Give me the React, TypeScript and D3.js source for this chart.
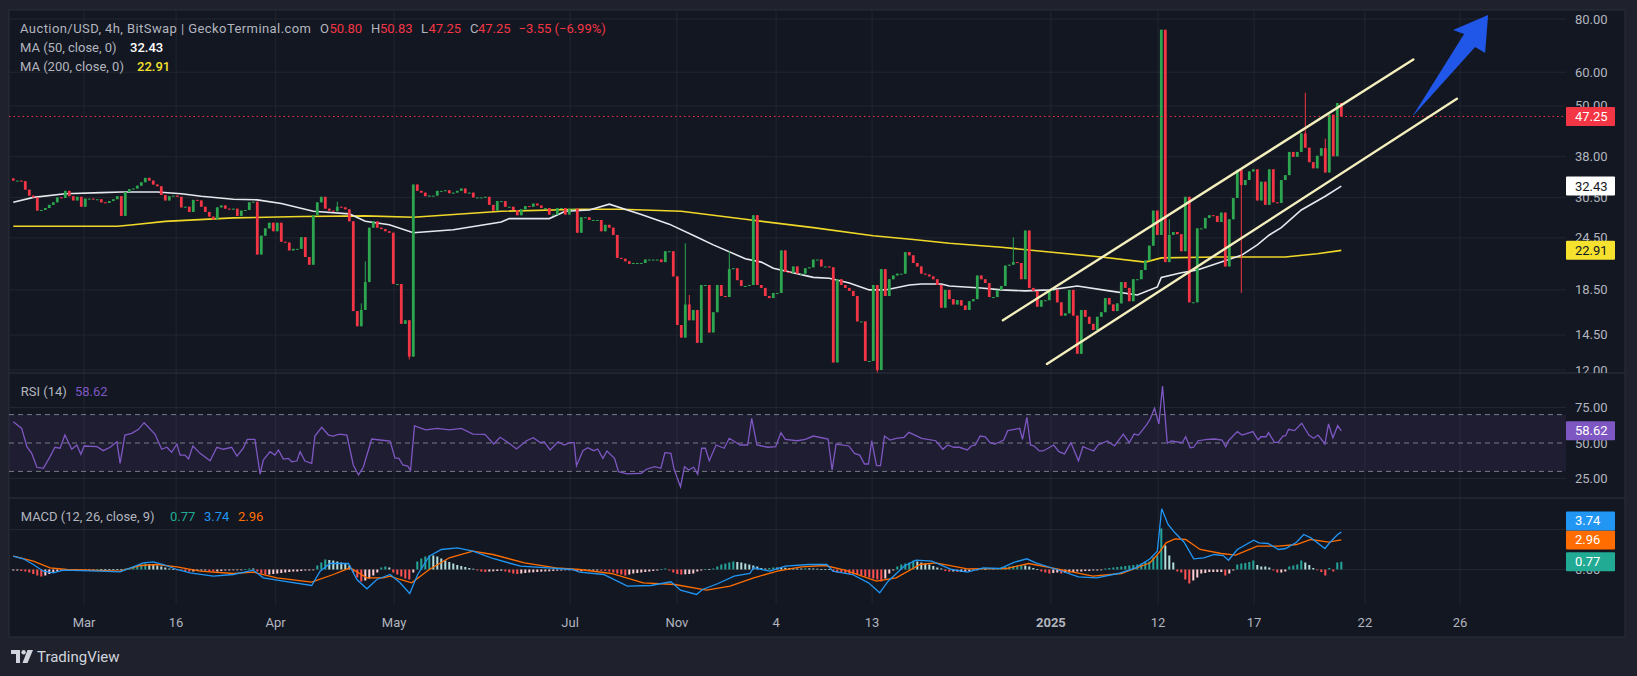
import * as d3 from "d3";

// ---- price data (4h candles, open = previous close) ----
const firstOpen = 33.8;
const closes = [
  33.4, 33.4, 33.3, 31.8, 30.8, 30.5, 28.4, 28.5, 28.8, 29.3,
  29.7, 30.5, 30.4, 31.6, 30.7, 30.0, 30.6, 29.0, 30.3, 30.3,
  30.2, 30.2, 29.7, 29.6, 29.9, 30.2, 30.7, 27.6, 31.4, 31.9,
  32.0, 32.5, 33.1, 33.9, 33.4, 32.7, 32.4, 30.9, 30.0, 30.7,
  30.8, 30.6, 28.9, 29.0, 28.2, 30.1, 30.0, 29.0, 28.2, 27.5,
  27.1, 28.9, 29.2, 28.7, 28.6, 28.7, 27.6, 28.4, 28.5, 29.7,
  29.8, 22.4, 24.8, 25.8, 26.6, 25.4, 26.6, 24.0, 23.9, 22.9,
  23.1, 23.1, 24.6, 22.1, 21.2, 27.7, 29.7, 30.6, 28.7, 28.4,
  28.3, 29.0, 28.9, 28.6, 26.8, 16.5, 15.2, 16.6, 19.3, 25.9,
  26.8, 25.9, 25.7, 25.4, 25.2, 19.1, 19.1, 15.4, 15.7, 12.9,
  32.7, 31.6, 31.3, 30.7, 30.8, 30.8, 31.6, 31.6, 31.7, 31.2,
  31.3, 31.6, 32.0, 31.2, 31.3, 30.5, 30.5, 30.5, 30.6, 29.3,
  28.4, 29.9,
  29.9, 29.0, 29.0, 28.5, 27.7, 28.6, 29.1, 29.0, 29.5, 29.2,
  28.8, 28.8, 27.8, 27.8, 28.8, 28.8, 27.8, 28.7, 28.7, 25.2,
  27.4, 27.4, 27.0, 27.0, 27.0, 25.4, 26.3, 25.9, 24.9, 22.0,
  21.9, 21.6, 21.3, 21.4, 21.4, 21.4, 21.8, 21.8, 21.8, 21.8,
  21.5, 22.8, 22.8, 19.9, 15.3, 14.3, 17.1, 15.7, 16.6, 13.9,
  19.0, 19.0, 14.7, 16.4, 19.0, 17.9, 17.8, 20.7, 20.8, 19.5,
  18.9, 18.9, 19.0, 27.7, 19.0, 18.7, 17.9, 17.7, 18.2, 18.2,
  22.9, 20.4, 20.3, 21.0, 20.2, 20.2, 20.8, 20.9, 21.8, 21.8,
  21.0, 21.0, 20.9, 12.5, 19.6, 19.0, 18.7, 18.4, 17.9, 15.6,
  15.6, 12.6, 12.6, 19.0, 12.0, 20.7, 17.9, 19.6, 20.0, 20.2,
  20.2, 22.7, 22.3, 21.4, 21.0, 20.2, 20.1, 19.9, 19.6, 19.0,
  16.8, 18.5, 17.6, 17.1, 17.5, 17.0, 16.6, 17.4, 17.6, 20.0,
  19.6, 19.2, 17.8, 17.8, 18.5,
  18.9, 21.1, 21.2, 21.5, 21.4, 19.6, 25.5, 18.7, 18.4, 16.9,
  17.5, 17.5, 18.5, 18.5, 17.3, 16.1, 16.3, 18.5, 16.1, 13.1,
  16.6, 16.0, 15.4, 14.9, 16.0, 16.4, 17.7, 17.1, 16.5, 17.2,
  19.3, 18.7, 17.4, 19.6, 19.6, 20.6, 21.7, 23.5, 28.4, 24.9,
  75.5, 21.5, 24.9, 25.3, 25.0, 22.8, 30.6, 17.3, 17.3, 25.8,
  25.8, 27.3, 27.7, 27.6, 26.7, 28.1, 21.0, 27.1, 30.4, 35.4,
  32.6, 33.5, 35.1, 35.5, 30.0, 33.2, 29.3, 35.5, 29.7, 29.6,
  33.5, 34.4, 39.0, 38.0, 39.0, 43.1, 39.9, 36.9, 35.7, 38.2,
  39.8, 34.9, 47.7, 38.1, 50.8, 47.25,
];
// [candle index, high, low] where the wick goes past the body
const wicks: [number, number | null, number | null][] = [
  [81, 29.8, null], [87, 17.2, null], [88, 21.6, null], [99, null, 12.7],
  [168, 23.8, null], [169, 18.0, null], [179, 22.8, null], [216, null, 11.8],
  [250, 24.6, null], [289, 27.1, null], [307, null, 18.2], [323, 53.7, null],
  [328, 41.9, null], [332, 50.83, null],
];

const ma50: [number, number][] = [
  [0, 29.7], [5, 30.5], [13, 31.1], [22, 31.3], [27, 31.4], [36, 31.4], [42, 31.1], [47, 30.7],
  [55, 30.2], [61, 30.1], [67, 29.5], [75, 28.3], [84, 27.9], [88, 26.8], [94, 26.3], [100, 25.2],
  [110, 25.6], [122, 26.7], [124, 27.2], [134, 27.2], [138, 28.3], [144, 28.5], [149, 29.4],
  [157, 27.8], [164, 26.4], [171, 24.6], [175, 23.6], [183, 21.9], [187, 21.5], [190, 20.8],
  [200, 19.8], [204, 19.7], [209, 19.2], [214, 18.5], [218, 18.5], [224, 19.0], [227, 19.1],
  [232, 19.1], [234, 18.9], [242, 18.7], [247, 18.5], [253, 18.4], [259, 18.5], [266, 18.9],
  [274, 18.4], [281, 18.0], [286, 18.8], [287, 19.8], [292, 20.3], [296, 20.6], [302, 21.5],
  [307, 22.3], [311, 23.6], [314, 24.9], [317, 25.9], [322, 28.5], [328, 30.7], [332, 32.43],
];
const ma200: [number, number][] = [
  [0, 26.1], [26, 26.1], [30, 26.3], [38, 26.8], [55, 27.3], [72, 27.5], [88, 27.6], [100, 27.4],
  [122, 28.3], [142, 28.6], [152, 28.6], [167, 28.3], [183, 27.1], [200, 25.9], [215, 24.8],
  [225, 24.3], [234, 23.8], [247, 23.3], [259, 22.7], [272, 22.1], [283, 21.5], [287, 22.0],
  [301, 22.1], [318, 22.1], [326, 22.5], [332, 22.91],
];

const rsi: [number, number][] = [
  [0, 65.0], [2.1, 60.3], [3.4, 47.4], [4.6, 42.7], [5.9, 32.9], [7.5, 32.2], [9.2, 40.4], [10.4, 47.0], [11.7, 46.3], [12.9, 55.6],
  [14.6, 45.6], [15.9, 48.6], [16.9, 42.0], [17.7, 47.9], [20.9, 47.4], [22.5, 44.6], [24.2, 47.0], [25.9, 50.9], [26.7, 35.7], [27.9, 55.6],
  [29.6, 56.8], [31.3, 59.6], [32.7, 64.3], [35.4, 56.3], [37.1, 45.6], [38.4, 47.0], [39.6, 43.5], [40.9, 49.3], [41.7, 41.5], [42.9, 41.5],
  [43.8, 38.7], [44.9, 47.9], [46.7, 42.7], [49.2, 37.5], [50.9, 47.0], [52.5, 45.6], [54.6, 47.0], [55.9, 40.8], [57.5, 46.3], [58.5, 52.6],
  [60.4, 52.6], [61.7, 28.0], [62.5, 38.0], [64.2, 43.9], [65.4, 41.5], [66.3, 45.1], [67.5, 38.7], [68.8, 39.2], [69.6, 36.8], [70.9, 37.3],
  [71.7, 43.9], [72.9, 37.3], [74.6, 35.7], [75.4, 54.9], [77.1, 61.1], [78.8, 55.6], [80, 54.9], [81.5, 56.3], [83.4, 55.6], [85, 34.5],
  [86.3, 27.5], [87.5, 32.9], [89.6, 52.8], [91.7, 52.1], [94.2, 51.4], [95.4, 39.5], [96.4, 39.2], [97.4, 34.5], [98.6, 33.8], [99.3, 30.5],
  [100.3, 62.0], [103.1, 59.2], [106, 60.3], [109, 59.2], [112, 60.3], [114.9, 56.3], [117.9, 56.1], [120.1, 49.3], [121.7, 54.0], [123.8, 50.2],
  [125.8, 45.8], [128.3, 51.6], [130, 53.7], [131.8, 50.2], [132.7, 50.9], [134.2, 45.1], [136.2, 50.9], [137.7, 48.6], [139.2, 50.2], [140.2, 50.2],
  [140.8, 34.0], [142.4, 44.6], [143.6, 46.7], [145.1, 44.6], [146.1, 45.8], [147.4, 39.2], [148.4, 44.4], [150.3, 39.2], [151.3, 29.8], [153.5, 28.2],
  [157, 28.7], [158.4, 31.7], [160.4, 33.3], [161.9, 32.2], [162.9, 43.2], [164.4, 42.7], [165.2, 31.5], [166.8, 19.2], [167.8, 33.3], [168.8, 31.0],
  [170.1, 32.9], [171.1, 28.0], [172.1, 46.3], [173, 46.3], [174, 37.5], [175.7, 48.6], [177.7, 46.3], [179, 53.3], [181.7, 48.6], [183.6, 48.6],
  [184.6, 67.4], [185.9, 48.6], [188.6, 47.0], [190.6, 47.4], [191.9, 57.3], [193, 52.6], [196, 51.6], [198, 52.6], [200, 54.9], [203.7, 52.8],
  [204.7, 31.0], [205.7, 49.3], [208.9, 47.9], [210.3, 42.7], [211.6, 41.5], [212.8, 35.2], [213.8, 35.2], [214.6, 51.6], [215.8, 34.0], [216.8, 34.0],
  [217.8, 54.9], [219.2, 52.1], [220.7, 53.3], [222.7, 54.0], [223.9, 57.5], [227.1, 53.3], [230.6, 51.6], [232.4, 45.6], [233.6, 48.6], [235.1, 47.0],
  [236.5, 47.0], [238.5, 45.1], [239.5, 47.9], [240.5, 48.6], [241.7, 54.9], [243, 54.4], [244.2, 50.2], [245.4, 49.3], [246.7, 50.9], [247.6, 52.1],
  [248.6, 58.7], [250.3, 59.6], [251.6, 60.3], [252.3, 52.6], [253.4, 68.1], [254.3, 48.6], [255.2, 47.9], [256.5, 44.4], [257.4, 44.4], [258.7, 46.3],
  [260.1, 48.6], [261.4, 43.9], [262.8, 42.3], [264.4, 50.2], [266.3, 37.5], [267.4, 47.4], [269, 45.6], [270.1, 44.4], [271.2, 48.6], [273.5, 51.4],
  [275.3, 47.9], [277.5, 56.3], [279, 50.2], [280.2, 56.3], [281.3, 55.6], [283.3, 62.7], [284.2, 66.7], [285.3, 74.4], [286.4, 63.4], [287.3, 90.1],
  [288.5, 49.8], [289.5, 51.4], [292.2, 50.2], [293.1, 54.4], [294.2, 46.7], [295.1, 47.0], [296.2, 51.6], [298.5, 52.6], [300.3, 52.8], [302.2, 52.1],
  [303.1, 47.4], [303.8, 51.6], [306, 58.0], [307.2, 55.6], [308.5, 56.8], [309.9, 58.0], [311.2, 52.1], [311.9, 54.4], [313.2, 54.4], [313.8, 57.3],
  [315.3, 50.5], [316.2, 50.5], [317.4, 54.9], [318.1, 55.1], [318.8, 59.6], [320.3, 58.7], [322.1, 63.9], [323.9, 55.6], [325.1, 53.3], [326.2, 55.6],
  [327.9, 49.3], [328.8, 63.4], [329.9, 53.7], [331.1, 62.2], [332, 58.62],
];

const macdLine: [number, number][] = [
  [0, 1.33], [2.5, 1.07], [5, 0.5], [7.5, -0.17], [10, -0.33], [12.5, -0.07], [21.7, -0.17], [26.7, -0.23],
  [30, 0.27], [32.5, 0.67], [35, 0.77], [37.5, 0.5], [40.9, 0], [44.2, -0.33], [50, -0.67], [55, -0.5],
  [60, -0.07], [62.5, -0.83], [67.5, -1.17], [74.6, -1.6], [76.7, -0.17], [79.2, 0.6], [83.8, 0.6],
  [85.9, -1.0], [88.4, -1.93], [90.9, -1.0], [94.2, -0.5], [96.7, -1.33], [99.1, -2.4], [101.1, -0.5],
  [104, 1.33], [107, 2.0], [111, 2.17], [114.9, 1.83], [119.9, 1.1], [126.8, 0.33], [133.7, 0.17],
  [139.7, 0], [141.6, -0.27], [147.6, -0.5], [153.5, -1.67], [159.4, -1.6], [164.4, -1.23], [166.8, -2.07],
  [170.8, -2.5], [172.3, -2.0], [176.2, -1.4], [180.2, -0.67], [184.1, -0.4], [185.1, 0.17], [189.1, -0.17],
  [193, 0.33], [198.9, 0.5], [203.4, 0.5], [204.9, -0.17], [209.8, -0.5], [213.8, -1.33], [216.6, -2.33],
  [218.7, -1.17], [222.7, 0.33], [225.7, 0.93], [229.6, 0.83], [234.6, 0], [238.5, -0.27], [242.5, 0.17],
  [246.7, 0.1], [250.3, 0.73], [253.4, 1.07], [255.6, 0.67], [260.9, 0], [266.3, -0.73], [270.8, -0.83],
  [276.2, -0.4], [280.6, 0.17], [284.2, 1.07], [286, 1.83], [287.1, 6.07], [288.7, 4.5], [290.4, 3.67],
  [292.7, 2.73], [295.1, 1.07], [297.6, 1.17], [300.3, 1.5], [302.5, 1.4], [303.8, 0.93], [306, 2.0],
  [310.1, 2.93], [311.4, 2.67], [313.7, 2.6], [316.3, 2.0], [318.1, 2.1], [320.8, 2.73], [322.6, 3.5],
  [324.4, 3.17], [327.9, 2.1], [329.3, 2.77], [331.1, 3.5], [332, 3.74],
];
const signalLine: [number, number][] = [
  [0, 1.33], [5, 0.83], [9.2, 0.17], [13.4, 0], [26.7, -0.17], [31.7, 0.4], [35.9, 0.5], [40.9, 0.27],
  [46.7, -0.17], [55, -0.4], [60, -0.27], [65.9, -0.83], [74.6, -1.27], [80, -0.5], [84.2, 0.17],
  [88.4, -0.83], [92.5, -0.83], [94.2, -0.67], [96.7, -1.0], [99.6, -1.33], [104, 0], [109, 1.17],
  [114.9, 1.83], [119.9, 1.5], [127.8, 0.67], [135.7, 0.17], [141.6, 0], [149.5, -0.4], [157.5, -1.33],
  [165.4, -1.5], [173.3, -2.07], [179.2, -1.67], [185.1, -0.83], [191, -0.17], [197, 0.27], [202.9, 0.4],
  [207.9, -0.07], [215.8, -1.17], [220.7, -0.83], [226.7, 0.5], [230.6, 0.67], [238.5, 0.07], [248.4, 0.1],
  [253.8, 0.6], [260.9, 0.07], [269.9, -0.67], [277, -0.4], [284.2, 0.67], [286.4, 1.67], [288.2, 2.67],
  [290.4, 3.07], [293.1, 3.0], [296.7, 2.0], [302, 1.6], [305.6, 1.43], [311, 2.33], [316.3, 2.33],
  [320.8, 2.5], [324.4, 3.0], [328.8, 2.73], [332, 2.96],
];
const histogram = [
  -0.1, -0.1, -0.15, -0.2, -0.3, -0.45, -0.6, -0.7, -0.6, -0.45,
  -0.3, -0.2, -0.1, -0.1, -0.05, -0.05, -0.05, -0.05, -0.05, -0.05,
  -0.05, 0.03, 0.03, 0.03, 0.03, 0.03, 0.03, 0.03, 0.1, 0.15,
  0.3, 0.4, 0.5, 0.6, 0.55, 0.5, 0.4, 0.3, 0.2, 0.1,
  0.05, -0.05, -0.1, -0.15, -0.2, -0.2, -0.15, -0.1, -0.1, -0.15,
  -0.2, -0.2, -0.15, -0.1, -0.1, -0.05, -0.05, -0.05, 0.05, 0.1,
  0.1, -0.2, -0.4, -0.5, -0.5, -0.45, -0.4, -0.35, -0.3, -0.25,
  -0.2, -0.2, -0.15, -0.1, -0.1, -0.05, 0.4, 0.7, 1.0, 0.95,
  0.9, 0.8, 0.7, 0.6, 0.4, -0.3, -0.8, -1.2, -1.1, -0.9,
  -0.6, -0.3, 0.2, 0.3, 0.2, -0.3, -0.5, -0.7, -0.9, -1.0,
  -0.3, 0.8, 1.1, 1.3, 1.4, 1.4, 1.3, 1.1, 0.9, 0.75,
  0.6, 0.45, 0.35, 0.25, 0.15, 0.08, -0.1, -0.2, -0.25, -0.2,
  -0.18, -0.15, -0.12, -0.2, -0.3, -0.4, -0.45, -0.4, -0.35, -0.3,
  -0.28, -0.25, -0.22, -0.2, -0.18, -0.15, -0.12, -0.1, -0.08, -0.05,
  -0.1, -0.2, -0.18, -0.15, -0.12, -0.1, -0.1, -0.12, -0.15, -0.2,
  -0.3, -0.4, -0.5, -0.6, -0.5, -0.4, -0.35, -0.3, -0.25, -0.2,
  -0.15, -0.1, 0.05, 0.1, -0.1, -0.3, -0.45, -0.5, -0.48, -0.45,
  -0.4, -0.2, -0.1, 0.05, 0.05, 0.1, 0.3, 0.5, 0.6, 0.7,
  0.8, 0.75, 0.7, 0.6, 0.5, 0.4, 0.3, 0.15, 0.1, 0.15,
  0.2, 0.2, 0.2, 0.18, 0.15, 0.12, 0.1, 0.1, 0.12, 0.12,
  0.1, 0.08, 0.05, 0.05, 0.03, -0.2, -0.3, -0.35, -0.4, -0.45,
  -0.5, -0.55, -0.6, -0.7, -0.8, -0.9, -1.0, -1.2, -0.9, -0.4,
  -0.1, 0.3, 0.5, 0.6, 0.7, 0.9, 0.8, 0.7, 0.6, 0.5,
  0.35, 0.2, 0.1, -0.15, -0.2, -0.2, -0.25, -0.25, -0.2, -0.15,
  -0.1, -0.05, 0.05, 0.05, 0.1, 0.1, 0.15, 0.2, 0.25, 0.3,
  0.35, 0.4, 0.45, 0.4, 0.3, 0.15, 0.05, -0.2, -0.3, -0.4,
  -0.35, -0.3, -0.4, -0.35, -0.3, -0.25, -0.2, -0.2, -0.15, -0.15,
  -0.1, -0.1, -0.05, 0.1, 0.15, 0.2, 0.25, 0.3, 0.35, 0.4,
  0.45, 0.5, 0.6, 0.75, 0.8, 1.2, 1.4, 4.1, 2.4, 1.4,
  0.7, -0.2, -0.3, -1.0, -1.4, -1.1, -0.8, -0.4, -0.35, -0.25,
  -0.25, -0.25, -0.25, -0.6, -0.4, -0.1, 0.5, 0.6, 0.65, 0.75,
  0.9, 0.45, 0.3, 0.3, 0.2, -0.1, -0.3, -0.3, -0.2, 0.3,
  0.4, 0.5, 0.9, 0.7, 0.45, 0.15, -0.05, -0.25, -0.6, 0.15,
  -0.2, 0.7, 0.77,
];

const priceTicks = [80, 60, 50, 38, 30.5, 24.5, 18.5, 14.5, 12];
const rsiTicks = [75, 50, 25];
const macdGrid = [4, 0];
const macdTickLabels = [0];
const timeTicks = [
  { i: 17.7, label: "Mar" }, { i: 40.7, label: "16" }, { i: 65.6, label: "Apr" },
  { i: 95.2, label: "May" }, { i: 139.2, label: "Jul" }, { i: 165.9, label: "Nov" },
  { i: 190.7, label: "4" }, { i: 214.7, label: "13" }, { i: 259.4, label: "2025", bold: true },
  { i: 286.2, label: "12" }, { i: 310.2, label: "17" }, { i: 337.9, label: "22" },
  { i: 361.7, label: "26" },
];
// channel drawn on the chart: [index, price] -> [index, price]
const channel: [number, number][][] = [
  [[247.4, 15.7], [350, 64.3]],
  [[258.4, 12.4], [360.9, 52.0]],
];
const last = { close: 47.25, ma50: 32.43, ma200: 22.91, rsi: 58.62, hist: 0.77, macd: 3.74, signal: 2.96 };

const FONT = "Roboto, 'Liberation Sans', Arial, sans-serif";
const GRID = "#22262f";
const TXT = "#b2b5be";
const UP = "#2ea64f";
const DOWN = "#f23645";
const L = 9, R = 1566, T = 10;
const MAIN_B = 373, RSI_B = 498, MACD_B = 604, FRAME_R = 1625, FRAME_B = 637;

export default function App() {
  const n = closes.length;
  const x = d3.scaleLinear().domain([0, n - 1]).range([13.3, 1341.3]);
  const yP = d3.scaleLog().domain([12, 80]).range([370, 19]);
  const yR = d3.scaleLinear().domain([25, 75]).range([478.5, 407.5]);
  const yM = d3.scaleLinear().domain([0, 4]).range([569.5, 529.5]);

  const candles = closes.map((c, i) => {
    const o = i === 0 ? firstOpen : closes[i - 1];
    const w = wicks.find((d) => d[0] === i);
    const h = Math.max(o, c, w && w[1] != null ? w[1] : 0);
    const l = Math.min(o, c, w && w[2] != null ? w[2] : 1e9);
    return { i, o, c, h, l };
  });

  const lineP = d3.line<[number, number]>().x((d) => x(d[0])).y((d) => yP(d[1]));
  const lineR = d3.line<[number, number]>().x((d) => x(d[0])).y((d) => yR(d[1]));
  const lineM = d3.line<[number, number]>().x((d) => x(d[0])).y((d) => yM(d[1]));

  const histColor = (v: number, p: number) =>
    v >= 0 ? (v > p ? "#26a69a" : "#b2dfdb") : v < p ? "#ff5252" : "#ffcdd2";

  // macd badges pushed apart like the price scale does
  const macdBadges = [
    { v: last.hist, color: "#22ab94" },
    { v: last.signal, color: "#ff6d00" },
    { v: last.macd, color: "#2196f3" },
  ];
  let prevY = Infinity;
  const macdBadgeY = macdBadges.map((b) => {
    const y = Math.min(yM(b.v), prevY - 19);
    prevY = y;
    return y;
  });

  const badge = (y: number, fill: string, text: string, color: string, key: string) => (
    <g key={key}>
      <rect x={R} y={y - 9.5} width={49} height={19} fill={fill} rx={1} />
      <text x={1575} y={y} fill={color} fontSize={13} dominantBaseline="central">{text}</text>
    </g>
  );

  const tipX = x(368.7), tipY = yP(81.8);
  const arrow = [
    [tipX, tipY], [tipX - 35, tipY + 15], [tipX - 24, tipY + 19], [tipX - 76, tipY + 102],
    [tipX - 13, tipY + 32], [tipX - 3, tipY + 38],
  ].map((p) => p.join(",")).join(" ");

  return (
    <svg width={1637} height={676} style={{ position: "absolute", left: 0, top: 0, display: "block" }} fontFamily={FONT}>
      <defs>
        <clipPath id="cMain"><rect x={L} y={T} width={R - L} height={MAIN_B - T} /></clipPath>
        <clipPath id="cRsi"><rect x={L} y={MAIN_B} width={R - L} height={RSI_B - MAIN_B} /></clipPath>
        <clipPath id="cMacd"><rect x={L} y={RSI_B} width={R - L} height={MACD_B - RSI_B} /></clipPath>
        <clipPath id="cMainAxis"><rect x={R} y={T} width={FRAME_R - R} height={MAIN_B - T} /></clipPath>
      </defs>
      <rect width={1637} height={676} fill="#1f222c" />
      <rect x={L} y={T} width={FRAME_R - L} height={FRAME_B - T} fill="#131722" stroke="#2a2e39" />

      {/* grid */}
      {timeTicks.map((t) => (
        <line key={t.label} x1={x(t.i)} x2={x(t.i)} y1={T} y2={MACD_B} stroke={GRID} />
      ))}
      {priceTicks.map((p) => (
        <line key={p} x1={L} x2={R} y1={yP(p)} y2={yP(p)} stroke={GRID} />
      ))}
      {rsiTicks.filter((v) => v !== 50).map((v) => (
        <line key={v} x1={L} x2={R} y1={yR(v)} y2={yR(v)} stroke={GRID} />
      ))}
      {macdGrid.map((v) => (
        <line key={v} x1={L} x2={R} y1={yM(v)} y2={yM(v)} stroke={GRID} />
      ))}

      {/* main pane */}
      <g clipPath="url(#cMain)">
        <path d={lineP(ma200) || ""} fill="none" stroke="#f0d829" strokeWidth={1.6} />
        <path d={lineP(ma50) || ""} fill="none" stroke="#e6e8ee" strokeWidth={1.6} />
        {candles.map((d) => {
          const col = d.c >= d.o ? UP : DOWN;
          const top = yP(Math.max(d.o, d.c));
          const bot = yP(Math.min(d.o, d.c));
          return (
            <g key={d.i}>
              <line x1={x(d.i)} x2={x(d.i)} y1={yP(d.h)} y2={yP(d.l)} stroke={col} strokeWidth={1} />
              <rect x={x(d.i) - 1.4} y={top} width={2.8} height={Math.max(1, bot - top)} fill={col} />
            </g>
          );
        })}
        <line x1={L} x2={R} y1={yP(last.close)} y2={yP(last.close)} stroke={DOWN} strokeDasharray="1.5 3" />
        {channel.map((c, k) => (
          <line key={k} x1={x(c[0][0])} y1={yP(c[0][1])} x2={x(c[1][0])} y2={yP(c[1][1])}
            stroke="#f4efbd" strokeWidth={2.4} strokeLinecap="round" />
        ))}
        <polygon points={arrow} fill="#2157e8" />
      </g>

      {/* RSI pane */}
      <line x1={L} x2={FRAME_R} y1={MAIN_B} y2={MAIN_B} stroke="#2e323d" />
      <g clipPath="url(#cRsi)">
        <rect x={L} y={yR(70)} width={R - L} height={yR(30) - yR(70)} fill="rgba(126,87,194,0.1)" />
        {[70, 50, 30].map((v) => (
          <line key={v} x1={L} x2={R} y1={yR(v)} y2={yR(v)} stroke="#787b86" strokeDasharray="5 4" />
        ))}
        <path d={lineR(rsi) || ""} fill="none" stroke="#7e57c2" strokeWidth={1.3} />
      </g>

      {/* MACD pane */}
      <line x1={L} x2={FRAME_R} y1={RSI_B} y2={RSI_B} stroke="#2e323d" />
      <g clipPath="url(#cMacd)">
        {histogram.map((v, i) => {
          const y0 = yM(0), y1 = yM(v);
          return (
            <rect key={i} x={x(i) - 1} width={2} y={Math.min(y0, y1)} height={Math.max(0.8, Math.abs(y1 - y0))}
              fill={histColor(v, i === 0 ? v : histogram[i - 1])} />
          );
        })}
        <path d={lineM(signalLine) || ""} fill="none" stroke="#ff6d00" strokeWidth={1.3} />
        <path d={lineM(macdLine) || ""} fill="none" stroke="#2196f3" strokeWidth={1.3} />
      </g>

      {/* price axis */}
      <g clipPath="url(#cMainAxis)">
        {priceTicks.map((p) => (
          <text key={p} x={1575} y={yP(p)} fill={TXT} fontSize={13} dominantBaseline="central">{p.toFixed(2)}</text>
        ))}
      </g>
      {rsiTicks.map((v) => (
        <text key={v} x={1575} y={yR(v)} fill={TXT} fontSize={13} dominantBaseline="central">{v.toFixed(2)}</text>
      ))}
      {macdTickLabels.map((v) => (
        <text key={v} x={1575} y={yM(v)} fill={TXT} fontSize={13} dominantBaseline="central">{v.toFixed(2)}</text>
      ))}
      {badge(yP(last.close), DOWN, last.close.toFixed(2), "#ffffff", "b1")}
      {badge(yP(last.ma50), "#ffffff", last.ma50.toFixed(2), "#131722", "b2")}
      {badge(yP(last.ma200), "#f5e12e", last.ma200.toFixed(2), "#131722", "b3")}
      {badge(yR(last.rsi), "#7e57c2", last.rsi.toFixed(2), "#ffffff", "b4")}
      {macdBadges.map((b, k) => badge(macdBadgeY[k], b.color, b.v.toFixed(2), "#ffffff", "m" + k))}

      {/* time axis */}
      {timeTicks.map((t) => (
        <text key={t.label} x={x(t.i)} y={622} fill={TXT} fontSize={13} textAnchor="middle"
          dominantBaseline="central" fontWeight={t.bold ? 700 : 400}>{t.label}</text>
      ))}

      {/* legends */}
      <g fontSize={13} dominantBaseline="central">
        <text x={20} y={28} fill={TXT} textLength={291} lengthAdjust="spacing">Auction/USD, 4h, BitSwap | GeckoTerminal.com</text>
        <text x={320} y={28} fill={TXT}>O</text>
        <text x={329.5} y={28} fill={DOWN}>50.80</text>
        <text x={371} y={28} fill={TXT}>H</text>
        <text x={380} y={28} fill={DOWN}>50.83</text>
        <text x={421} y={28} fill={TXT}>L</text>
        <text x={428.5} y={28} fill={DOWN}>47.25</text>
        <text x={470} y={28} fill={TXT}>C</text>
        <text x={478} y={28} fill={DOWN}>47.25</text>
        <text x={518.5} y={28} fill={DOWN}>−3.55 (−6.99%)</text>
        <text x={20} y={47.7} fill={TXT}>MA (50, close, 0)</text>
        <text x={130} y={47.7} fill="#ffffff" fontWeight={500}>{last.ma50.toFixed(2)}</text>
        <text x={20} y={66.7} fill={TXT}>MA (200, close, 0)</text>
        <text x={137} y={66.7} fill="#f5e12e" fontWeight={500}>{last.ma200.toFixed(2)}</text>
        <text x={20.7} y={391.7} fill={TXT}>RSI (14)</text>
        <text x={75} y={391.7} fill="#7e57c2">{last.rsi.toFixed(2)}</text>
        <text x={20.7} y={516.7} fill={TXT}>MACD (12, 26, close, 9)</text>
        <text x={170} y={516.7} fill="#22ab94">{last.hist.toFixed(2)}</text>
        <text x={204} y={516.7} fill="#2196f3">{last.macd.toFixed(2)}</text>
        <text x={238} y={516.7} fill="#ff6d00">{last.signal.toFixed(2)}</text>
      </g>

      {/* TradingView mark */}
      <g fill="#d1d4dc">
        <path d="M11 650 h9 v13 h-4 v-9 h-5 z" />
        <circle cx={23.6} cy={652.2} r={2.2} />
        <polygon points="27.5,650 33,650 27.5,663 22.5,663" />
        <text x={37} y={656.5} fontSize={15} dominantBaseline="central">TradingView</text>
      </g>
    </svg>
  );
}
